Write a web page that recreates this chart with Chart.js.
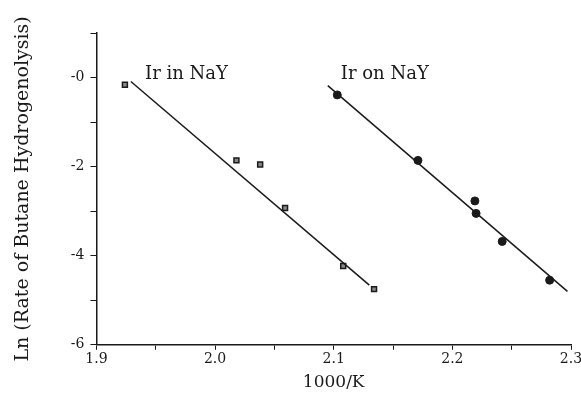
<!DOCTYPE html>
<html>
<head>
<meta charset="utf-8">
<script src="https://cdn.jsdelivr.net/npm/chart.js@4.4.0/dist/chart.umd.min.js"></script>
<style>
  html, body { margin: 0; padding: 0; background: #fff; overflow: hidden; }
  #wrap { width: 581px; height: 399px; }
</style>
</head>
<body>
<div id="wrap"><canvas id="arrhenius" width="581" height="399"></canvas></div>
<script>
// measured points, x = 1000/K, y = ln(rate)
const inNaYx = [1.924, 2.018, 2.038, 2.059, 2.108, 2.134];
const inNaYy = [-0.16, -1.86, -1.95, -2.93, -4.23, -4.75];
const onNaYx = [2.103, 2.171, 2.219, 2.220, 2.242, 2.282];
const onNaYy = [-0.39, -1.86, -2.77, -3.05, -3.68, -4.55];

// fitted lines (end points)
const inFitX = [1.929, 2.130];
const inFitY = [-0.09, -4.66];
const onFitX = [2.095, 2.297];
const onFitY = [-0.18, -4.80];

// curve labels
const labelText = ['Ir in NaY', 'Ir on NaY'];
const labelX = [1.941, 2.106];
const labelY = [0.07, 0.07];

const serif = '"DejaVu Serif", "Liberation Serif", serif';
const ink = '#1a1a1a';

const toPts = (xs, ys) => xs.map((x, i) => ({ x: x, y: ys[i] }));

const curveLabels = {
  id: 'curveLabels',
  afterDatasetsDraw(chart) {
    const { ctx, scales } = chart;
    ctx.save();
    ctx.fillStyle = ink;
    ctx.font = '18px ' + serif;
    ctx.textBaseline = 'middle';
    ctx.textAlign = 'left';
    labelText.forEach((t, i) => {
      ctx.fillText(t, scales.x.getPixelForValue(labelX[i]), scales.y.getPixelForValue(labelY[i]));
    });
    ctx.restore();
  }
};

new Chart(document.getElementById('arrhenius'), {
  type: 'scatter',
  data: {
    datasets: [
      {
        label: 'Ir in NaY fit',
        type: 'line',
        data: toPts(inFitX, inFitY),
        borderColor: ink,
        borderWidth: 1.5,
        pointRadius: 0,
        fill: false
      },
      {
        label: 'Ir on NaY fit',
        type: 'line',
        data: toPts(onFitX, onFitY),
        borderColor: ink,
        borderWidth: 1.5,
        pointRadius: 0,
        fill: false
      },
      {
        label: 'Ir in NaY',
        data: toPts(inNaYx, inNaYy),
        pointStyle: 'rect',
        pointRadius: 3.5,
        backgroundColor: '#888',
        borderColor: ink,
        borderWidth: 1.5
      },
      {
        label: 'Ir on NaY',
        data: toPts(onNaYx, onNaYy),
        pointStyle: 'circle',
        pointRadius: 4,
        backgroundColor: ink,
        borderColor: ink,
        borderWidth: 1
      }
    ]
  },
  options: {
    responsive: false,
    animation: false,
    layout: { padding: { top: 33, right: 10, left: 8, bottom: 0 } },
    plugins: { legend: { display: false }, tooltip: { enabled: false } },
    scales: {
      x: {
        type: 'linear',
        min: 1.9,
        max: 2.3,
        afterFit: (s) => { s.paddingRight = 0; },
        ticks: {
          stepSize: 0.05,
          autoSkip: false,
          maxRotation: 0,
          padding: 1,
          color: ink,
          font: { family: serif, size: 14 },
          callback: (v) => (Math.round(v * 100) % 10 === 0 ? v.toFixed(1) : '')
        },
        grid: { drawOnChartArea: false, tickLength: 5, color: ink },
        border: { color: ink, width: 1.5 },
        title: { display: true, text: '1000/K', color: ink, font: { family: serif, size: 17 }, padding: { top: 4, bottom: 6 } }
      },
      y: {
        type: 'linear',
        min: -6,
        max: 1,
        ticks: {
          stepSize: 1,
          autoSkip: false,
          padding: 6,
          color: ink,
          font: { family: serif, size: 14 },
          callback: (v) => (v % 2 === 0 ? (v === 0 ? '-0' : String(v)) : '')
        },
        grid: { drawOnChartArea: false, tickLength: 6, color: ink },
        border: { color: ink, width: 1.5 },
        title: { display: true, text: 'Ln (Rate of Butane Hydrogenolysis)', color: ink, font: { family: serif, size: 19 }, padding: { top: 4, bottom: 30 } }
      }
    }
  },
  plugins: [curveLabels]
});
</script>
</body>
</html>
